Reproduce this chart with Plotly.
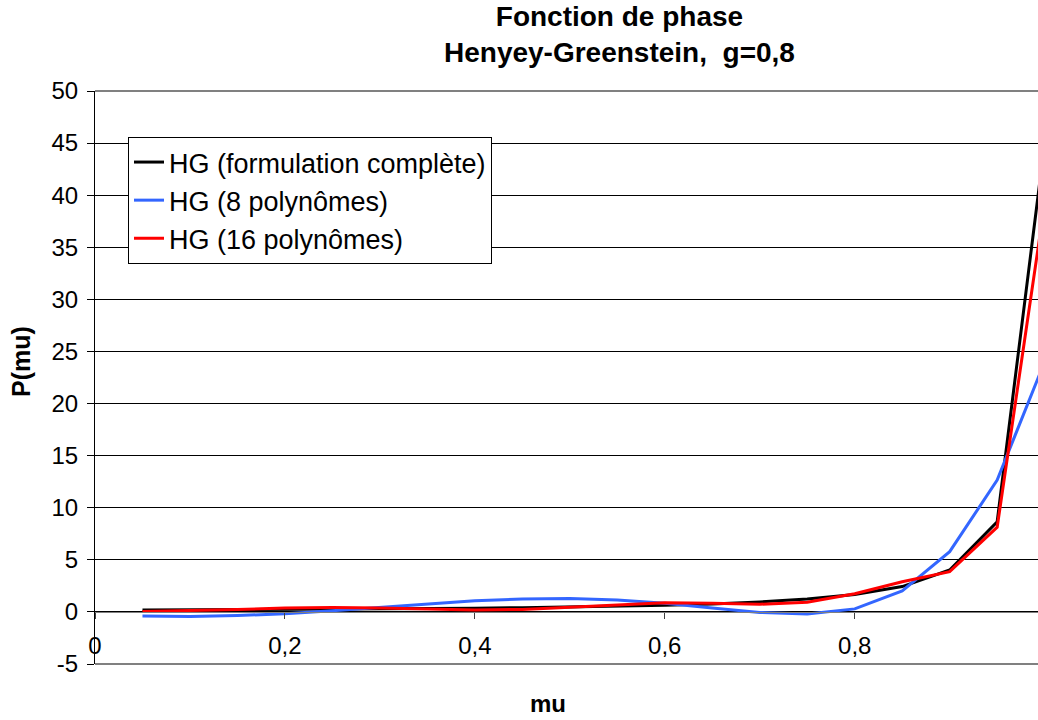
import plotly.graph_objects as go

# cosine of the scattering angle
mu = [0.05, 0.10, 0.15, 0.20, 0.25, 0.30, 0.35, 0.40, 0.45, 0.50,
      0.55, 0.60, 0.65, 0.70, 0.75, 0.80, 0.85, 0.90, 0.95, 1.00]

# Henyey-Greenstein phase function, g = 0.8
hg_complete = [0.18, 0.20, 0.22, 0.24, 0.26, 0.29, 0.32, 0.36, 0.41, 0.47,
               0.54, 0.64, 0.77, 0.96, 1.23, 1.67, 2.43, 4.02, 8.66, 45.0]
hg_8_poly = [-0.40, -0.43, -0.35, -0.17, 0.10, 0.43, 0.77, 1.06, 1.25, 1.29,
             1.15, 0.83, 0.38, -0.05, -0.21, 0.29, 2.02, 5.78, 12.65, 24.03]
hg_16_poly = [0.04, 0.11, 0.24, 0.37, 0.42, 0.37, 0.26, 0.18, 0.24, 0.45,
              0.72, 0.88, 0.84, 0.73, 0.93, 1.75, 2.90, 3.86, 8.13, 39.23]

series_names = ["HG (formulation complète)", "HG (8 polynômes)", "HG (16 polynômes)"]
series_colors = ["#000000", "#3366FF", "#FF0000"]

x_tickvals = [0, 0.2, 0.4, 0.6, 0.8]
x_ticktext = ["0", "0,2", "0,4", "0,6", "0,8"]
y_tickvals = [-5, 0, 5, 10, 15, 20, 25, 30, 35, 40, 45, 50]
y_ticktext = ["-5", "0", "5", "10", "15", "20", "25", "30", "35", "40", "45", "50"]

FONT = "Liberation Sans, Arial, sans-serif"

# plot area in pixels
PL, PR, PT, PB = 95, 1038, 91, 664


def px_to_paper(px, py):
    return (px - PL) / (PR - PL), 1 - (py - PT) / (PB - PT)


fig = go.Figure()
for name, values, color in zip(series_names, [hg_complete, hg_8_poly, hg_16_poly], series_colors):
    fig.add_trace(go.Scatter(
        x=mu, y=values, mode="lines", name=name, legendgroup=name,
        line=dict(color=color, width=3),
    ))

annotations = []
for text, (px, py), size, angle in [
    ("<b>Fonction de phase<br>Henyey-Greenstein,  g=0,8</b>", (619, 34), 28, 0),
    ("<b>mu</b>", (548, 703), 24, 0),
    ("<b>P(mu)</b>", (21, 362), 25, -90),
]:
    ax, ay = px_to_paper(px, py)
    annotations.append(dict(
        text=text, x=ax, y=ay, xref="paper", yref="paper", showarrow=False,
        xanchor="center", yanchor="middle", textangle=angle, align="center",
        font=dict(family=FONT, size=size, color="black"),
    ))

lx, ly = px_to_paper(128, 137)

fig.update_layout(
    width=1038, height=720,
    margin=dict(l=PL, r=1038 - PR, t=PT, b=720 - PB),
    paper_bgcolor="white", plot_bgcolor="white",
    font=dict(family=FONT, size=24, color="black"),
    showlegend=True,
    legend=dict(
        x=lx, y=ly, xanchor="left", yanchor="top",
        bgcolor="white", bordercolor="black", borderwidth=1,
        font=dict(family=FONT, size=27, color="black"),
        tracegroupgap=0, itemwidth=30,
    ),
    xaxis=dict(
        range=[0, 0.993], tickvals=x_tickvals, ticktext=x_ticktext,
        anchor="free", position=5 / 55,
        showline=True, linecolor="#808080", linewidth=1,
        ticks="outside", ticklen=6, tickcolor="#404040",
        showgrid=False, zeroline=False,
        ticklabelstandoff=6,
        tickfont=dict(family=FONT, size=24, color="black"),
    ),
    yaxis=dict(
        range=[-5, 50], tickvals=y_tickvals, ticktext=y_ticktext,
        showline=True, linecolor="black", linewidth=1,
        ticks="outside", ticklen=7, tickcolor="black",
        showgrid=True, gridcolor="black", gridwidth=1,
        zeroline=False, ticklabelstandoff=4,
        tickfont=dict(family=FONT, size=24, color="black"),
    ),
    shapes=[
        # grey border along the top and bottom of the plot area
        dict(type="line", xref="paper", yref="paper", x0=0, x1=1, y0=1, y1=1,
             line=dict(color="#808080", width=2)),
        dict(type="line", xref="paper", yref="paper", x0=0, x1=1, y0=0, y1=0,
             line=dict(color="#808080", width=2)),
    ],
    annotations=annotations,
)

fig.write_html("out.html")
